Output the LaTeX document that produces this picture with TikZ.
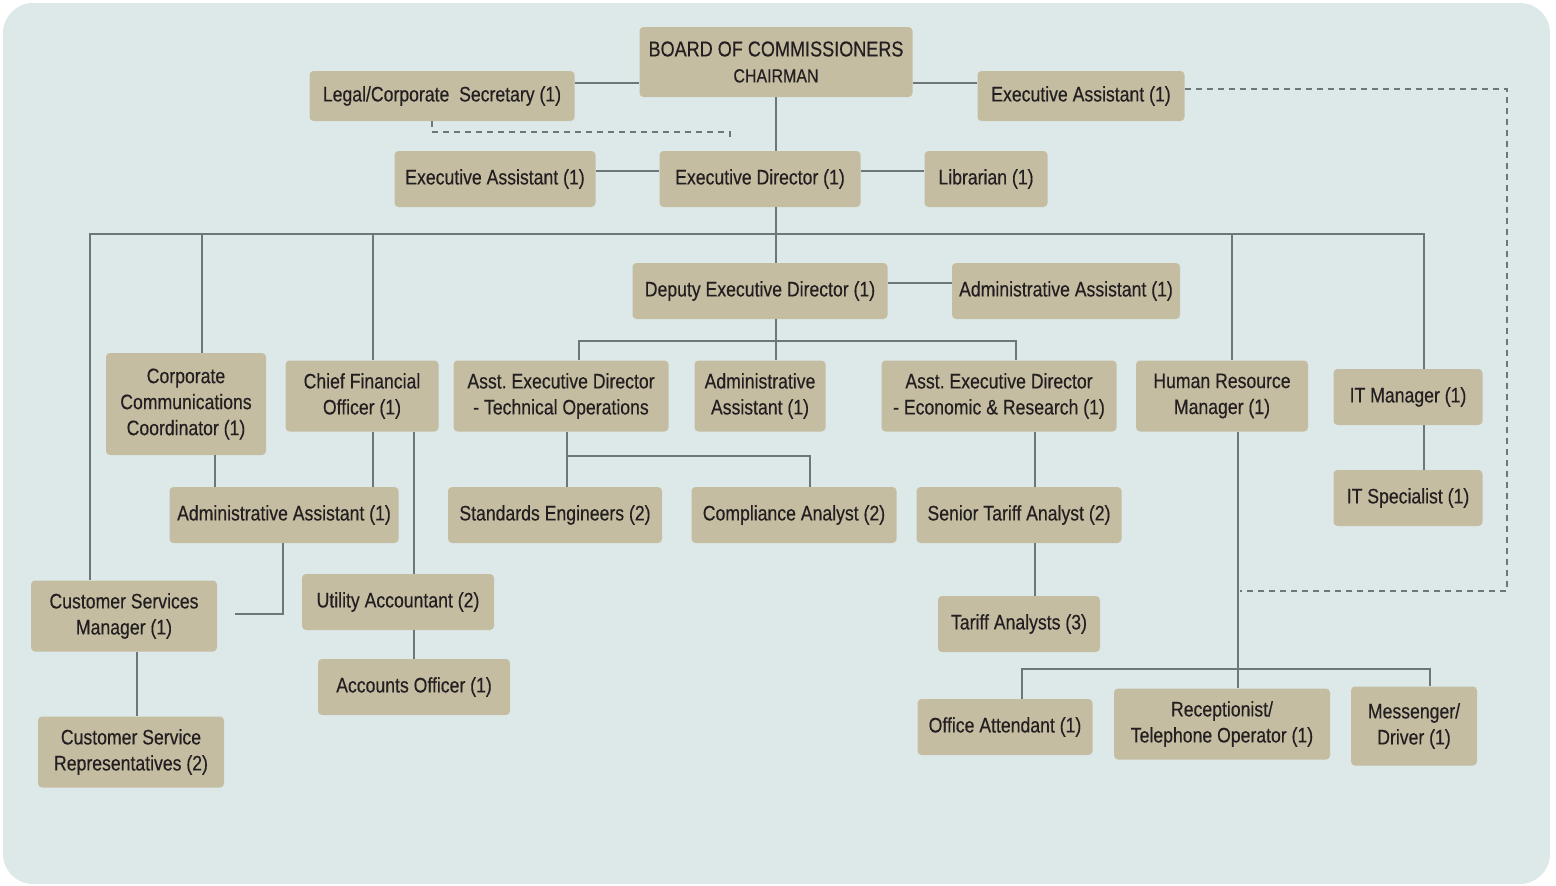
\documentclass[tikz,border=0pt]{standalone}
\usepackage{fontspec}
\setmainfont{Liberation Sans}[FakeStretch=0.84,FakeBold=0.4]
\usetikzlibrary{calc}
\definecolor{bgc}{HTML}{DDE9E8}
\definecolor{boxc}{HTML}{C5BDA2}
\definecolor{linec}{HTML}{6F767A}
\definecolor{txtc}{HTML}{231F20}
\frenchspacing
\begin{document}
\begin{tikzpicture}
% 1 unit = 1 pixel of the chart, y runs downwards
[x=1pt,y=-1pt,
box/.style={fill=boxc,rounded corners=4pt,text=txtc,align=center,inner sep=0pt,
  font=\fontsize{21}{26}\selectfont},
ln/.style={draw=linec,line width=1.6pt},
dl/.style={ln,dash pattern=on 6pt off 5pt}]
\useasboundingbox (0,0) rectangle (1556,886);
\fill[bgc,rounded corners=30pt] (3,3) rectangle (1550,884);
% top rows
\node[box,minimum width=273pt,minimum height=70pt] (board) at (776,62)
  {{\fontsize{21.5}{26}\selectfont BOARD OF COMMISSIONERS}\\[0pt]{\fontsize{19}{22}\selectfont CHAIRMAN}};
\node[box,minimum width=265pt,minimum height=50pt] (legal) at (442,96) {Legal/Corporate\ \ Secretary (1)};
\node[box,minimum width=207pt,minimum height=50pt] (eatop) at (1081,96) {Executive Assistant (1)};
\node[box,minimum width=201pt,minimum height=56pt] (eaexec) at (495,179) {Executive Assistant (1)};
\node[box,minimum width=201pt,minimum height=56pt] (execdir) at (760,179) {Executive Director (1)};
\node[box,minimum width=123pt,minimum height=56pt] (lib) at (986,179) {Librarian (1)};
\node[box,minimum width=255pt,minimum height=56pt] (deputy) at (760,291) {Deputy Executive Director (1)};
\node[box,minimum width=228pt,minimum height=56pt] (aadep) at (1066,291) {Administrative Assistant (1)};
% heads of units
\node[box,minimum width=160pt,minimum height=102pt] (corpcomm) at (186,404) {Corporate\\Communications\\Coordinator (1)};
\node[box,minimum width=153pt,minimum height=71pt] (cfo) at (362,396) {Chief Financial\\Officer (1)};
\node[box,minimum width=215pt,minimum height=71pt] (aedtech) at (561,396) {Asst. Executive Director\\- Technical Operations};
\node[box,minimum width=131pt,minimum height=71pt] (aaops) at (760,396) {Administrative\\Assistant (1)};
\node[box,minimum width=235pt,minimum height=71pt] (aedecon) at (999,396) {Asst. Executive Director\\- Economic \& Research (1)};
\node[box,minimum width=172pt,minimum height=71pt] (hr) at (1222,396) {Human Resource\\Manager (1)};
\node[box,minimum width=149pt,minimum height=56pt] (itmgr) at (1408,397) {IT Manager (1)};
\node[box,minimum width=149pt,minimum height=56pt] (itspec) at (1408,498) {IT Specialist (1)};
% staff
\node[box,minimum width=229pt,minimum height=56pt] (aacfo) at (284,515) {Administrative Assistant (1)};
\node[box,minimum width=214pt,minimum height=56pt] (stdeng) at (555,515) {Standards Engineers (2)};
\node[box,minimum width=205pt,minimum height=56pt] (compl) at (794,515) {Compliance Analyst (2)};
\node[box,minimum width=205pt,minimum height=56pt] (sta) at (1019,515) {Senior Tariff Analyst (2)};
\node[box,minimum width=186pt,minimum height=71pt] (csm) at (124,616) {Customer Services\\Manager (1)};
\node[box,minimum width=192pt,minimum height=56pt] (util) at (398,602) {Utility Accountant (2)};
\node[box,minimum width=192pt,minimum height=56pt] (acct) at (414,687) {Accounts Officer (1)};
\node[box,minimum width=162pt,minimum height=56pt] (ta) at (1019,624) {Tariff Analysts (3)};
\node[box,minimum width=175pt,minimum height=56pt] (office) at (1005,727) {Office Attendant (1)};
\node[box,minimum width=216pt,minimum height=71pt] (recep) at (1222,724) {Receptionist/\\Telephone Operator (1)};
\node[box,minimum width=126pt,minimum height=79pt] (mess) at (1414,726) {Messenger/\\Driver (1)};
\node[box,minimum width=186pt,minimum height=71pt] (csr) at (131,752) {Customer Service\\Representatives (2)};
\coordinate (spine) at (776,0);
\coordinate (csmstub) at (235,614);
\coordinate (hrdash) at (1240,591);
% board and director
\draw[ln] (legal.east |- 0,83) -- (board.west |- 0,83);
\draw[ln] (board.east |- 0,83) -- (eatop.west |- 0,83);
\draw[ln] (spine |- board.south) -- (spine |- execdir.north);
\draw[ln] (eaexec.east |- 0,171) -- (execdir.west |- 0,171);
\draw[ln] (execdir.east |- 0,171) -- (lib.west |- 0,171);
\draw[ln] (spine |- execdir.south) -- (spine |- deputy.north);
% main bus
\draw[ln] (90,0 |- csm.north) |- (1424,234) -- (1424,0 |- itmgr.north);
\foreach \x/\n in {202/corpcomm,373/cfo,1232/hr}
  \draw[ln] (\x,234) -- (\x,0 |- \n.north);
% deputy
\draw[ln] (deputy.east |- 0,283) -- (aadep.west |- 0,283);
\draw[ln] (spine |- deputy.south) -- (spine |- aaops.north);
\draw[ln] (579,0 |- aedtech.north) |- (1016,341) -- (1016,0 |- aedecon.north);
% finance
\draw[ln] (215,0 |- corpcomm.south) -- (215,0 |- aacfo.north);
\draw[ln] (373,0 |- cfo.south) -- (373,0 |- aacfo.north);
\draw[ln] (414,0 |- cfo.south) -- (414,0 |- util.north);
\draw[ln] (414,0 |- util.south) -- (414,0 |- acct.north);
\draw[ln] (283,0 |- aacfo.south) |- (csmstub);
\draw[ln] (137,0 |- csm.south) -- (137,0 |- csr.north);
% technical
\draw[ln] (567,0 |- aedtech.south) |- (810,456) -- (810,0 |- compl.north);
\draw[ln] (567,456) -- (567,0 |- stdeng.north);
% economic
\draw[ln] (1035,0 |- aedecon.south) -- (1035,0 |- sta.north);
\draw[ln] (1035,0 |- sta.south) -- (1035,0 |- ta.north);
% hr and it
\draw[ln] (1238,0 |- hr.south) -- (1238,0 |- recep.north);
\draw[ln] (1022,0 |- office.north) |- (1430,669) -- (1430,0 |- mess.north);
\draw[ln] (1424,0 |- itmgr.south) -- (1424,0 |- itspec.north);
% dashed reporting lines
\draw[dl] (eatop.east |- 0,89) -| (1507,591) -- (hrdash);
\draw[dl] (432,0 |- legal.south) |- (730,132) -- (730,140);
\end{tikzpicture}
\end{document}
